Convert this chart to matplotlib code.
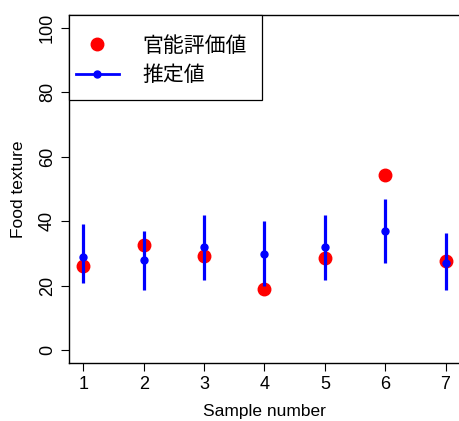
import numpy as np
import matplotlib.pyplot as plt
from matplotlib.lines import Line2D
from matplotlib.patches import Rectangle

plt.rcParams['font.family'] = ['Liberation Sans', 'Noto Sans CJK JP', 'DejaVu Sans']

# sample numbers and values
samples = [1, 2, 3, 4, 5, 6, 7]
sensory = [26.0, 32.6, 29.1, 19.1, 28.5, 54.2, 27.6]      # 官能評価値
estimate = [28.8, 27.9, 31.9, 29.8, 31.9, 36.9, 27.1]     # 推定値
est_low = [20.7, 18.8, 21.9, 19.8, 21.9, 27.1, 18.8]
est_high = [39.0, 37.0, 42.0, 40.1, 42.0, 47.0, 36.2]
labels = ['官能評価値', '推定値']

fig = plt.figure(figsize=(4.59, 4.21), dpi=100)
ax = fig.add_axes([69 / 459, 58 / 421, 391 / 459, 348 / 421])

ax.plot(samples, sensory, 'o', color='red', markersize=9, zorder=2)
ax.vlines(samples, est_low, est_high, color='blue', linewidth=2.3, zorder=3)
ax.plot(samples, estimate, 'o', color='blue', markersize=5, zorder=4)

ax.set_xlim(0.76, 7.24)
ax.set_ylim(-4, 104)
ax.set_xticks(samples)
ax.set_yticks([0, 20, 40, 60, 80, 100])
ax.tick_params(direction='out', length=6, width=0.8, labelsize=13, pad=3.5)
plt.setp(ax.get_yticklabels(), rotation=90, va='center')
for s in ax.spines.values():
    s.set_linewidth(1.0)

ax.set_xlabel('Sample number', fontsize=12.5, labelpad=8)
ax.set_ylabel('Food texture', fontsize=12.5, labelpad=9)

# legend box (R style: square corners, wider vertical padding)
ax.add_patch(Rectangle((0, 0.7557), 0.4936, 0.2443, transform=ax.transAxes,
                       facecolor='white', edgecolor='black', linewidth=0.9,
                       zorder=5, clip_on=False))
handles = [
    Line2D([], [], linestyle='none', marker='o', color='red', markersize=9),
    Line2D([], [], color='blue', linewidth=2, marker='o', markersize=5),
]
leg = ax.legend(handles, labels, loc='upper left',
                bbox_to_anchor=(7 / 391, 1 - 19.5 / 348),
                borderaxespad=0, borderpad=0, frameon=False,
                handlelength=2.06, handletextpad=1.15, labelspacing=0.36,
                prop={'family': ['Noto Sans CJK JP'], 'size': 15})
leg.set_zorder(6)

fig.savefig('out.png', dpi=100)
